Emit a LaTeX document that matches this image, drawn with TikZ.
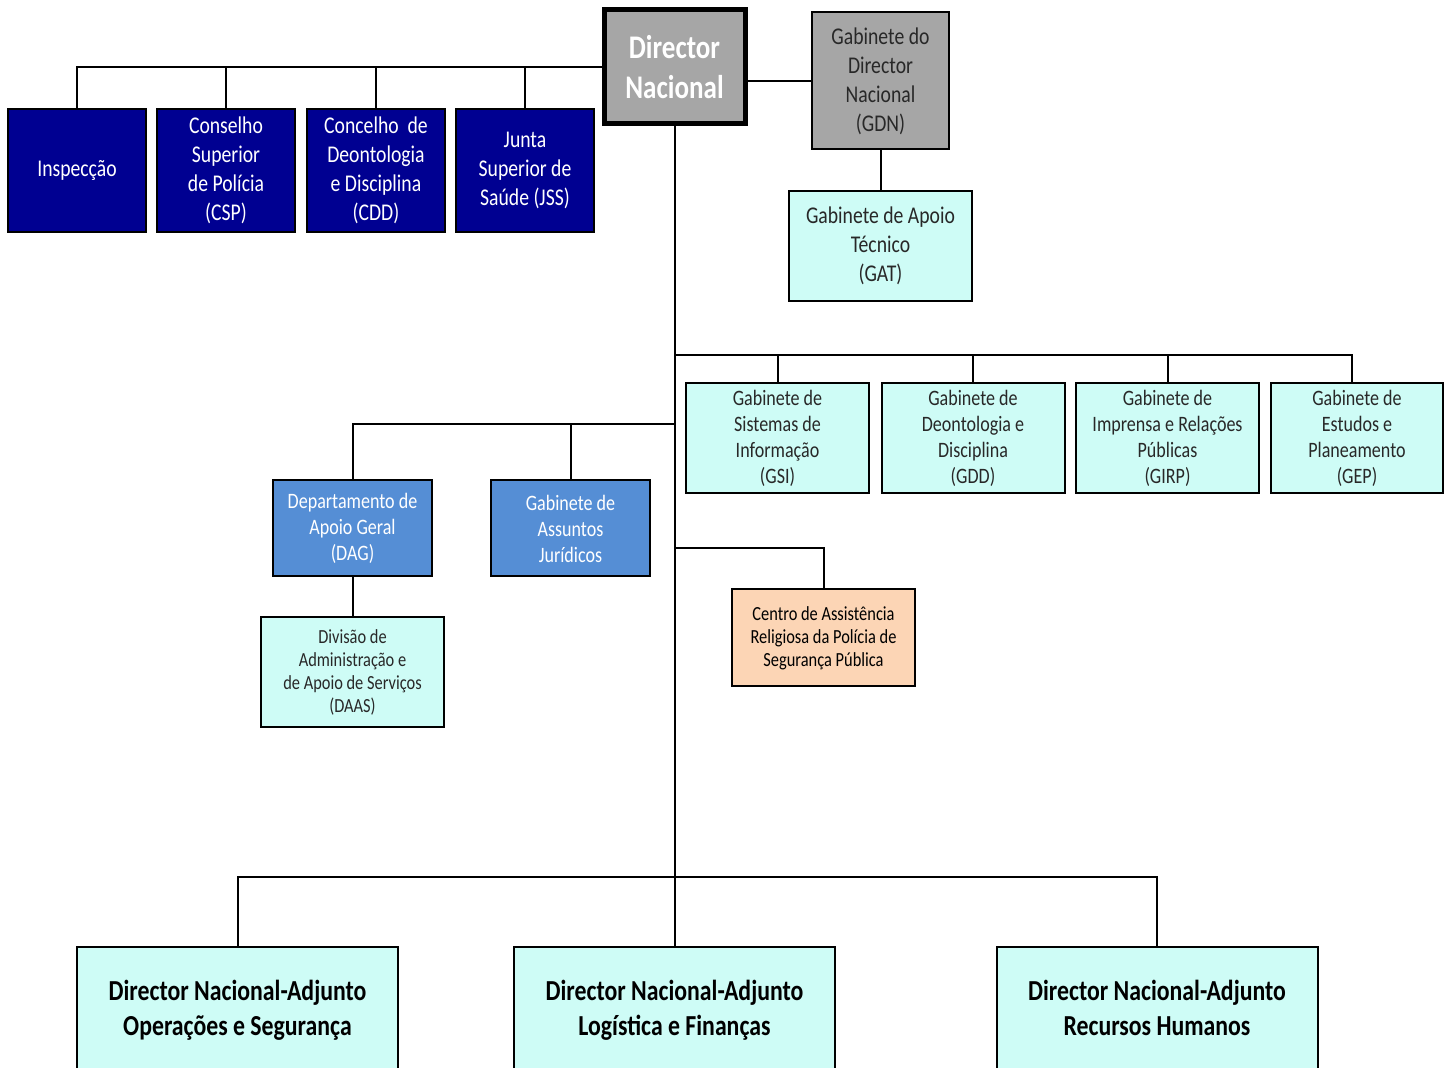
\documentclass[tikz,border=0pt]{standalone}
\usepackage{fontspec}
\setmainfont[FakeStretch=0.82]{Carlito}
\definecolor{navy}{RGB}{0,0,145}
\definecolor{greybox}{RGB}{166,166,166}
\definecolor{palecyan}{RGB}{206,252,246}
\definecolor{midblue}{RGB}{85,142,213}
\definecolor{peach}{RGB}{252,213,181}
\definecolor{darktext}{RGB}{40,40,40}
\tikzset{
    box/.style = {draw = black, line width = 1pt, align = center, inner sep = 0pt},
    navybox/.style = {box, fill = navy, text = white, minimum width = 69pt, minimum height = 61.5pt,
        font = \fontsize{12}{14.5}\selectfont},
    cyanbox/.style = {box, fill = palecyan, text = darktext, minimum width = 91.5pt, minimum height = 55pt,
        font = \fontsize{11}{13}\selectfont},
    bluebox/.style = {box, fill = midblue, text = white, minimum width = 79.5pt, minimum height = 48pt,
        font = \fontsize{11}{13}\selectfont},
    adjbox/.style = {box, fill = palecyan, text = black, minimum width = 160.5pt, minimum height = 63pt,
        font = \fontsize{14.5}{17.5}\selectfont\bfseries},
    link/.style = {draw = black, line width = 1pt}
}
\begin{document}
\begin{tikzpicture}[x = 0.5pt, y = -0.5pt]
        \useasboundingbox (0, 0) rectangle (1453, 1068);
        \clip (0, 0) rectangle (1453, 1068);
        % topo
        \node[box, fill = greybox, text = white, line width = 2.5pt, minimum width = 70.5pt, minimum height = 57pt,
            font = \fontsize{16.5}{20}\selectfont\bfseries] (dn) at (674.5, 67) {Director\\Nacional};
        \node[box, fill = greybox, text = darktext, minimum width = 68.5pt, minimum height = 68.5pt,
            font = \fontsize{12}{14.5}\selectfont] (gdn) at (880.5, 81) {Gabinete do\\Director\\Nacional\\(GDN)};
        \node[cyanbox, font = \fontsize{12}{14.5}\selectfont] (gat) at (880.5, 246) {Gabinete de Apoio\\Técnico\\(GAT)};
        % orgaos consultivos
        \foreach \n/\x/\txt in {insp/77/{Inspecção}, csp/226/{Conselho\\Superior\\de Polícia\\(CSP)},
            cdd/376/{Concelho~ de\\Deontologia\\e Disciplina\\(CDD)}, jss/525/{Junta\\Superior de\\Saúde (JSS)}}{
            \node[navybox] (\n) at (\x, 170.5) {\txt};
            \draw[link] (dn.west) -| (\n.north);
        }
        \draw[link] (dn.east |- gdn.west) -- (gdn.west);
        \draw[link] (gdn) -- (gat);
        % gabinetes
        \coordinate (jr) at (674.5, 355);
        \foreach \n/\x/\txt in {gsi/777.5/{Gabinete de\\Sistemas de\\Informação\\(GSI)},
            gdd/973/{Gabinete de\\Deontologia e\\Disciplina\\(GDD)},
            girp/1167.5/{Gabinete de\\Imprensa e Relações\\Públicas\\(GIRP)}}{
            \node[cyanbox] (\n) at (\x, 438.5) {\txt};
            \draw[link] (jr) -| (\n.north);
        }
        \node[cyanbox, minimum width = 86pt] (gep) at (1357, 438.5) {Gabinete de\\Estudos e\\Planeamento\\(GEP)};
        \draw[link] (jr) -| ([xshift = -2.5pt]gep.north);
        % apoio
        \coordinate (jl) at (674.5, 424);
        \node[bluebox] (dag) at (352.5, 528.5) {Departamento de\\Apoio Geral\\(DAG)};
        \node[bluebox] (gaj) at (570.5, 528.5) {Gabinete de\\Assuntos\\Jurídicos};
        \draw[link] (jl) -| (dag.north);
        \draw[link] (jl) -| (gaj.north);
        \node[cyanbox, font = \fontsize{10}{11.5}\selectfont] (daas) at (352.5, 672)
            {Divisão de\\Administração e\\de Apoio de Serviços\\(DAAS)};
        \draw[link] (dag) -- (daas);
        \coordinate (jc) at (674.5, 548);
        \node[box, fill = peach, text = black, minimum width = 91.5pt, minimum height = 48.5pt,
            font = \fontsize{10}{11.5}\selectfont] (carps) at (823.5, 638)
            {Centro de Assistência\\Religiosa da Polícia de\\Segurança Pública};
        \draw[link] (jc) -| (carps.north);
        % adjuntos
        \node[adjbox] (dnos) at (237.5, 1010) {Director Nacional-Adjunto\\Operações e Segurança};
        \node[adjbox] (dnlf) at (674.5, 1010) {Director Nacional-Adjunto\\Logística e Finanças};
        \node[adjbox] (dnrh) at (1157, 1010) {Director Nacional-Adjunto\\Recursos Humanos\vphantom{ç}};
        \coordinate (jb) at (674.5, 877);
        \draw[link] (dn.south) -- (dnlf.north);
        \draw[link] (jb) -| (dnos.north);
        \draw[link] (jb) -| (dnrh.north);
    \end{tikzpicture}
\end{document}
